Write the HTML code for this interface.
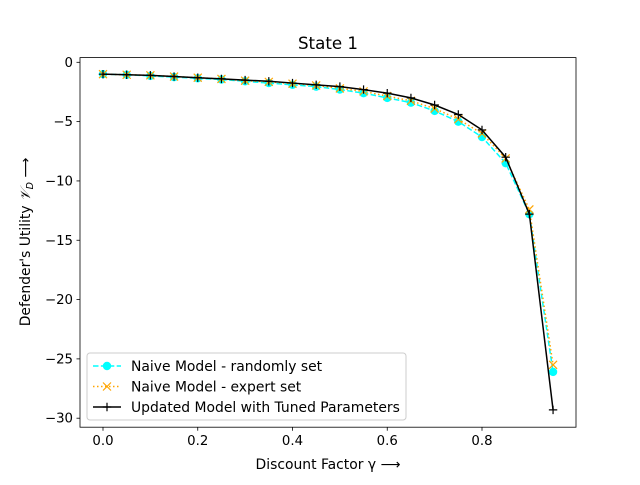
<!DOCTYPE html>
<html><head><meta charset="utf-8"><style>
body{margin:0;background:#fff}
svg text{font-family:"DejaVu Sans","Liberation Sans",sans-serif;fill:#000}
</style></head><body>
<svg width="640" height="480" viewBox="0 0 640 480">
<g id="plot"></g>
</svg>
<script>
const gammas=[0,0.05,0.1,0.15,0.2,0.25,0.3,0.35,0.4,0.45,0.5,0.55,0.6,0.65,0.7,0.75,0.8,0.85,0.9,0.95];
const naiveRandom=[-1.0,-1.05,-1.15,-1.25,-1.35,-1.45,-1.6,-1.75,-1.9,-2.05,-2.3,-2.6,-3.0,-3.4,-4.1,-5.0,-6.3,-8.5,-12.8,-26.1];
const naiveExpert=[-1.0,-1.05,-1.1,-1.2,-1.3,-1.4,-1.55,-1.65,-1.8,-1.95,-2.2,-2.45,-2.85,-3.25,-3.9,-4.8,-6.0,-8.1,-12.4,-25.5];
const tuned=[-1.0,-1.05,-1.1,-1.2,-1.3,-1.4,-1.5,-1.6,-1.75,-1.9,-2.05,-2.3,-2.6,-3.0,-3.6,-4.4,-5.7,-8.0,-12.8,-29.3];
const xTicks=[0,0.2,0.4,0.6,0.8];
const yTicks=[0,-5,-10,-15,-20,-25,-30];
const NS="http://www.w3.org/2000/svg";
const L=80,R=576,T=57.6,B=427.2;
const xs=v=>103+(v-0)*(482-103)/0.8;
const ys=v=>62.3+(-v)*(418.2-62.3)/30;
const g=document.getElementById('plot');
function mk(t,a,p){const e=document.createElementNS(NS,t);for(const k in a)e.setAttribute(k,a[k]);(p||g).appendChild(e);return e;}
xTicks.forEach(v=>{
 const gg=mk('g',{});
 
 
 mk('line',{x1:xs(v),x2:xs(v),y1:B,y2:B+3.5,stroke:'#000','stroke-width':0.8},gg);
 const t=mk('text',{x:xs(v),y:B+18,'font-size':13.3,'text-anchor':'middle'},gg);t.textContent=v.toFixed(1);
});
yTicks.forEach(v=>{
 const gg=mk('g',{});
 
 
 mk('line',{x1:L-3.5,x2:L,y1:ys(v),y2:ys(v),stroke:'#000','stroke-width':0.8},gg);
 const t=mk('text',{x:L-7,y:ys(v)+4.5,'font-size':13.3,'text-anchor':'end'},gg);t.textContent=v===0?'0':'−'+(-v);
});
function series(vals,color,dash,marker,name){
 const gg=mk('g',{});
 
 
 const pts=vals.map((v,i)=>xs(gammas[i])+','+ys(v)).join(' ');
 mk('polyline',{points:pts,fill:'none',stroke:color,'stroke-width':1.5,'stroke-dasharray':dash},gg);
 vals.forEach((v,i)=>{
  const x=xs(gammas[i]),y=ys(v);
  if(marker==='o')mk('circle',{cx:x,cy:y,r:4.2,fill:color},gg);
  else if(marker==='x')mk('path',{d:`M${x-4},${y-4}L${x+4},${y+4}M${x-4},${y+4}L${x+4},${y-4}`,stroke:color,'stroke-width':1.2},gg);
  else mk('path',{d:`M${x-4.2},${y}L${x+4.2},${y}M${x},${y-4.2}L${x},${y+4.2}`,stroke:color,'stroke-width':1.2},gg);
 });
}
series(naiveRandom,'#00ffff','5.5,2.4','o','series-naive-random');
series(naiveExpert,'#ffa500','1.5,2.5','x','series-naive-expert');
series(tuned,'#000','','+','series-tuned');
mk('rect',{x:L,y:T,width:R-L,height:B-T,fill:'none',stroke:'#000','stroke-width':0.8});
let t=mk('text',{x:328,y:49,'font-size':16.7,'text-anchor':'middle'});t.textContent='State 1';

t=mk('text',{x:328,y:469,'font-size':13.9,'text-anchor':'middle'});t.textContent='Discount Factor γ ⟶';

t=mk('text',{x:0,y:0,'font-size':13.9,'text-anchor':'middle',transform:'translate(30,242) rotate(-90)'});

t.appendChild(document.createTextNode("Defender's Utility "));
let ts=mk('tspan',{'font-style':'italic'},t);ts.textContent='𝒱';
ts=mk('tspan',{'font-size':9.5,dy:3,'font-style':'italic'},t);ts.textContent='D';
ts=mk('tspan',{dy:-3},t);ts.textContent=' ⟶';
const lg=mk('g',{});


mk('rect',{x:87,y:353,width:319,height:67,rx:3,fill:'#fff','fill-opacity':0.8,stroke:'#ccc','stroke-width':1},lg);
const ents=[['Naive Model - randomly set','#00ffff','5.5,2.4','o'],['Naive Model - expert set','#ffa500','1.5,2.5','x'],['Updated Model with Tuned Parameters','#000','','+']];
ents.forEach((e,i)=>{
 const y=366+i*20.5;
 const eg=mk('g',{},lg);
 
 
 mk('line',{x1:93,x2:121,y1:y,y2:y,stroke:e[1],'stroke-width':1.5,'stroke-dasharray':e[2]},eg);
 const x=107;
 if(e[3]==='o')mk('circle',{cx:x,cy:y,r:4.2,fill:e[1]},eg);
 else if(e[3]==='x')mk('path',{d:`M${x-4},${y-4}L${x+4},${y+4}M${x-4},${y+4}L${x+4},${y-4}`,stroke:e[1],'stroke-width':1.2},eg);
 else mk('path',{d:`M${x-4.2},${y}L${x+4.2},${y}M${x},${y-4.2}L${x},${y+4.2}`,stroke:e[1],'stroke-width':1.2},eg);
 const tt=mk('text',{x:131,y:y+5,'font-size':13.9},eg);tt.textContent=e[0];
});
</script>
</body></html>
